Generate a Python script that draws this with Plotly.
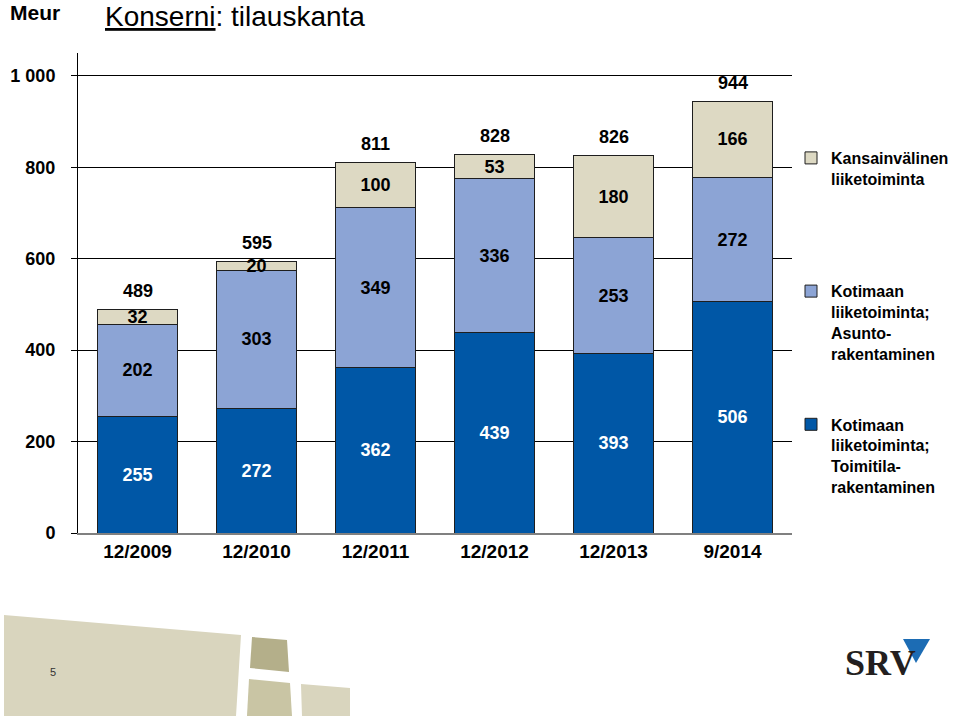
import plotly.graph_objects as go

# ---- data ----
categories = ["12/2009", "12/2010", "12/2011", "12/2012", "12/2013", "9/2014"]
toimitila = [255, 272, 362, 439, 393, 506]
asunto = [202, 303, 349, 336, 253, 272]
kansainvalinen = [32, 20, 100, 53, 180, 166]
totals = [489, 595, 811, 828, 826, 944]
y_tick_vals = [0, 200, 400, 600, 800, 1000]
y_tick_text = ["0", "200", "400", "600", "800", "1 000"]

series_names = [
    "Kotimaan<br>liiketoiminta;<br>Toimitila-<br>rakentaminen",
    "Kotimaan<br>liiketoiminta;<br>Asunto-<br>rakentaminen",
    "Kansainvälinen<br>liiketoiminta<br> <br> ",
]
series_values = [toimitila, asunto, kansainvalinen]
series_colors = ["#0057A6", "#8CA4D5", "#DDD9C3"]
label_colors = ["white", "black", "black"]
legend_ranks = [3, 2, 1]

W, H = 960, 716
ML, MT = 78, 53
PR, PB = 792, 533
MR, MB = W - PR, H - PB
PW, PH = W - ML - MR, H - MT - MB


def px(x):
    """screen x pixel -> paper x"""
    return (x - ML) / PW


def py(y):
    """screen y pixel -> paper y"""
    return (PB - y) / PH


FONT = "Liberation Sans, Arial, sans-serif"

fig = go.Figure()
for i, (name, vals, col, lc, rk) in enumerate(zip(series_names, series_values, series_colors,
                                                  label_colors, legend_ranks)):
    fig.add_trace(go.Bar(
        x=categories, y=vals, name=name, legendgroup=f"g{i}", legendrank=rk,
        marker=dict(color=col, line=dict(color="#1e1e1e", width=1)),
        text=[str(v) for v in vals], textposition="inside",
        insidetextanchor="middle", constraintext="none",
        textfont=dict(family=FONT, size=18, color=lc, weight="bold"),
        hoverinfo="skip",
    ))

shapes = []


def poly(points, color):
    path = "M " + " L ".join(f"{px(a):.5f},{py(b):.5f}" for a, b in points) + " Z"
    return dict(type="path", xref="paper", yref="paper", path=path,
                fillcolor=color, line=dict(width=0), layer="below")


# decorative footer blocks
shapes.append(poly([(4, 615), (241, 635), (236, 716), (4, 716)], "#D9D5BE"))
shapes.append(poly([(252, 637), (287, 640), (289, 672), (250, 668)], "#B4AF8A"))
shapes.append(poly([(249, 679), (290, 683), (292, 716), (247, 716)], "#C9C5A4"))
shapes.append(poly([(301, 684), (350, 688), (350, 716), (302, 716)], "#D9D5BE"))
# SRV logo triangle
shapes.append(poly([(903, 639), (930, 639), (916, 663)], "#1C6CB4"))

annotations = [
    dict(text="<b>Meur</b>", x=px(9), y=py(0), xref="paper", yref="paper",
         xanchor="left", yanchor="top", showarrow=False, borderpad=0,
         font=dict(family=FONT, size=21, color="black")),
    dict(text="<u>Konserni</u>: tilauskanta", x=px(104), y=py(0), xref="paper", yref="paper",
         xanchor="left", yanchor="top", showarrow=False, borderpad=0,
         font=dict(family=FONT, size=28, color="black")),
    dict(text="5", x=px(53), y=py(672), xref="paper", yref="paper",
         xanchor="center", yanchor="middle", showarrow=False,
         font=dict(family=FONT, size=11, color="#333333")),
    dict(text="<b>SRV</b>", x=px(843), y=py(663), xref="paper", yref="paper",
         xanchor="left", yanchor="middle", showarrow=False,
         font=dict(family="Liberation Serif, Times New Roman, serif", size=36, color="#231F20")),
]
# total labels above each stacked bar
for c, t in zip(categories, totals):
    annotations.append(dict(
        x=c, y=t, xref="x", yref="y", text=str(t), showarrow=False,
        xanchor="center", yanchor="middle", yshift=18,
        font=dict(family=FONT, size=18, color="black", weight="bold"),
    ))

fig.update_layout(
    width=W, height=H,
    margin=dict(l=ML, r=MR, t=MT, b=MB, autoexpand=False),
    paper_bgcolor="white", plot_bgcolor="white",
    barmode="stack", bargap=0.33,
    shapes=shapes, annotations=annotations,
    font=dict(family=FONT, color="black"),
    legend=dict(
        x=px(791), y=py(141), xanchor="left", yanchor="top",
        traceorder="grouped", tracegroupgap=47, valign="top",
        font=dict(family=FONT, size=16, color="black", weight="bold"),
        bgcolor="rgba(0,0,0,0)", itemwidth=30,
    ),
    showlegend=True,
)
fig.update_xaxes(
    showline=True, linecolor="#808080", linewidth=2, ticks="",
    tickfont=dict(family=FONT, size=19, color="black", weight="bold"),
    showgrid=False,
)
fig.update_yaxes(
    range=[0, 1050], tickvals=y_tick_vals, ticktext=y_tick_text,
    showline=True, linecolor="black", linewidth=1,
    ticks="outside", ticklen=6, tickcolor="black",
    showgrid=True, gridcolor="black", gridwidth=1, zeroline=False,
    tickfont=dict(family=FONT, size=18, color="black", weight="bold"),
    ticklabelstandoff=12,
)

# remove the browser's default 8px body margin so the figure sits at the page origin
fig.write_html("out.html", config={"displayModeBar": False},
               post_script="document.body.style.margin='0';")
